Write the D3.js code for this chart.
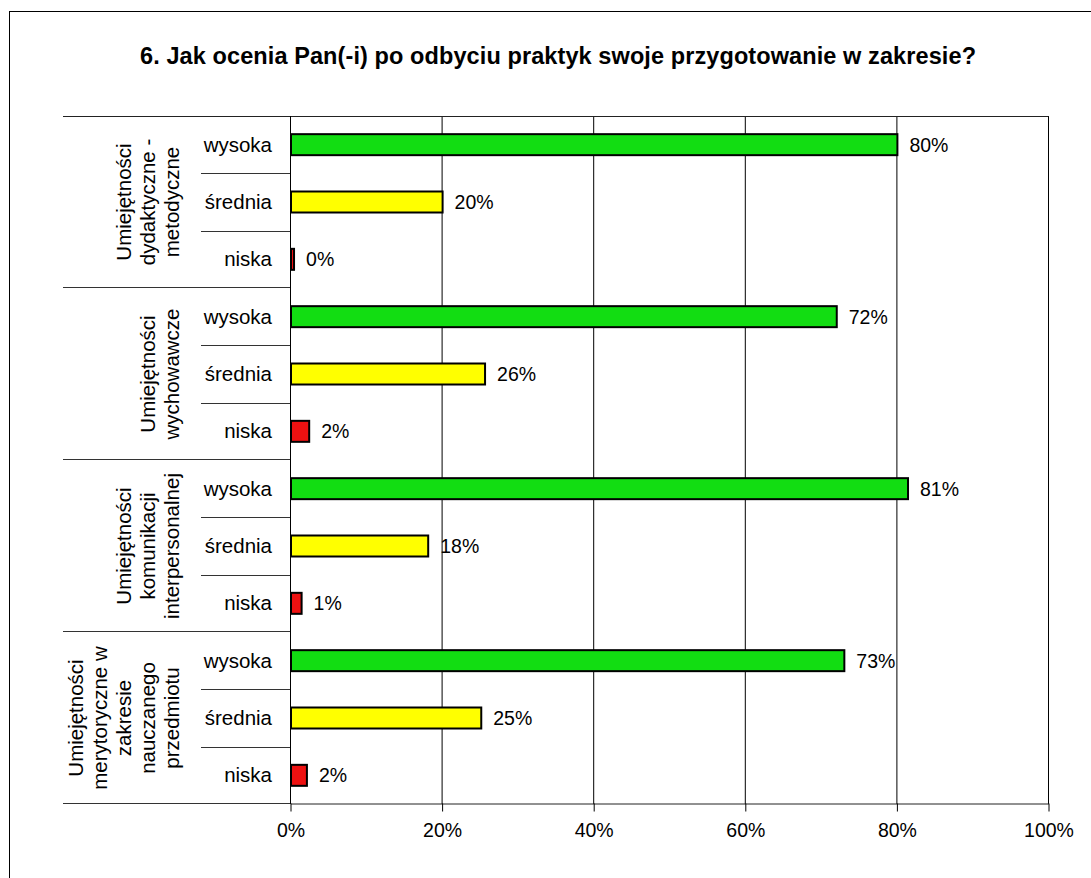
<!DOCTYPE html>
<html>
<head>
<meta charset="utf-8">
<script src="https://cdn.jsdelivr.net/npm/d3@7/dist/d3.min.js"></script>
<style>
  html, body { margin: 0; padding: 0; background: #fff; }
  svg { display: block; }
  text { font-family: Arial, "Liberation Sans", sans-serif; fill: #000; }
</style>
</head>
<body>
<svg id="chart" width="1091" height="878"></svg>
<script>
// ---- data ----
const title = "6. Jak ocenia Pan(-i) po odbyciu praktyk swoje przygotowanie w zakresie?";
const groupLabels = [
  ["Umiejętności", "dydaktyczne -", "metodyczne"],
  ["Umiejętności", "wychowawcze"],
  ["Umiejętności", "komunikacji", "interpersonalnej"],
  ["Umiejętności", "merytoryczne w", "zakresie", "nauczanego", "przedmiotu"]
];
const levels = ["wysoka", "średnia", "niska"];
const wysoka  = [80, 72, 81.4, 73];
const srednia = [20, 25.6, 18.1, 25.1];
const niska   = [0.4, 2.4, 1.4, 2.1];
const levelValues = [wysoka, srednia, niska];
const levelColors = ["#12dd12", "#ffff00", "#ee1111"];
const xTicks = [0, 20, 40, 60, 80, 100];

(function () {
// ---- rows ----
const rows = [];
groupLabels.forEach((g, gi) => {
  levels.forEach((lv, li) => {
    rows.push({ key: gi + "-" + li, group: gi, level: lv, li: li, value: levelValues[li][gi], color: levelColors[li] });
  });
});

const svg = d3.select("#chart");
const pL = 290, pR = 1048, pT = 116, pB = 804;
const catLeft = 63;

const x = d3.scaleLinear().domain([0, 100]).range([pL, pR]);
const y = d3.scaleBand().domain(rows.map(r => r.key)).range([pT, pB]).padding(0);
const step = y.step();
const barH = 21;

// outer frame
svg.append("rect").attr("x", 9.5).attr("y", 11.5).attr("width", 1100).attr("height", 900)
  .attr("fill", "none").attr("stroke", "#000").attr("stroke-width", 1);

// title
svg.append("text").attr("x", 558).attr("y", 64).attr("text-anchor", "middle")
  .attr("font-weight", "bold").attr("font-size", 23.5)
  .attr("textLength", 836).attr("lengthAdjust", "spacing").text(title);

// gridlines
svg.append("g").selectAll("line").data(xTicks.filter(d => d > 0)).join("line")
  .attr("x1", d => x(d) + 0.5).attr("x2", d => x(d) + 0.5)
  .attr("y1", pT).attr("y2", pB)
  .attr("stroke", "#000").attr("stroke-width", 1);

// top border of plot + category area
svg.append("line").attr("x1", catLeft).attr("x2", pR + 0.5).attr("y1", pT + 0.5).attr("y2", pT + 0.5)
  .attr("stroke", "#222").attr("stroke-width", 1);

// group separators
const groupBounds = groupLabels.map((g, gi) => y(gi + "-0"));
groupBounds.push(pB);
svg.append("g").selectAll("line").data(groupBounds.slice(1)).join("line")
  .attr("x1", catLeft).attr("x2", pL).attr("y1", d => Math.round(d) - 0.5).attr("y2", d => Math.round(d) - 0.5)
  .attr("stroke", "#333").attr("stroke-width", 1);

// inner separators between levels
svg.append("g").selectAll("line").data(rows.filter(r => r.li > 0)).join("line")
  .attr("x1", 201).attr("x2", pL).attr("y1", r => Math.round(y(r.key)) + 0.5).attr("y2", r => Math.round(y(r.key)) + 0.5)
  .attr("stroke", "#333").attr("stroke-width", 1);

// x axis
const xAxis = d3.axisBottom(x).tickValues(xTicks).tickFormat(d => d + "%")
  .tickSizeInner(8).tickSizeOuter(0).tickPadding(12);
const gx = svg.append("g").attr("transform", `translate(0.5,${pB - 0.5})`).call(xAxis);
gx.select(".domain").attr("stroke", "#222");
gx.selectAll(".tick line").attr("stroke", "#000");
gx.selectAll(".tick text").attr("font-size", 19.5).attr("font-family", "Arial, 'Liberation Sans', sans-serif").attr("fill", "#000");

// left axis line
svg.append("line").attr("x1", pL + 0.5).attr("x2", pL + 0.5).attr("y1", pT).attr("y2", pB)
  .attr("stroke", "#000").attr("stroke-width", 1);

// bars
svg.append("g").selectAll("rect").data(rows).join("rect")
  .attr("x", x(0) + 1)
  .attr("y", r => y(r.key) + step / 2 - barH / 2)
  .attr("width", r => Math.max(0, x(r.value) - x(0)))
  .attr("height", barH)
  .attr("fill", r => r.color)
  .attr("stroke", "#000").attr("stroke-width", 2);

// value labels
const fmt = d3.format(".0%");
svg.append("g").selectAll("text").data(rows).join("text")
  .attr("x", r => x(r.value) + 13)
  .attr("y", r => y(r.key) + step / 2 + 7)
  .attr("font-size", 19.5)
  .text(r => fmt(r.value / 100));

// level labels
svg.append("g").selectAll("text").data(rows).join("text")
  .attr("x", 272)
  .attr("y", r => y(r.key) + step / 2 + 7)
  .attr("text-anchor", "end")
  .attr("font-size", 20.5)
  .text(r => r.level);

// group labels (rotated, multiline)
const lineGap = 24, lastLineX = 172;
groupLabels.forEach((lines, gi) => {
  const cy = (groupBounds[gi] + groupBounds[gi + 1]) / 2;
  lines.forEach((ln, i) => {
    const cx = lastLineX - (lines.length - 1 - i) * lineGap;
    svg.append("text")
      .attr("transform", `translate(${cx + 7},${cy}) rotate(-90)`)
      .attr("text-anchor", "middle")
      .attr("font-size", 20.5)
      .text(ln);
  });
});
})();
</script>
</body>
</html>
